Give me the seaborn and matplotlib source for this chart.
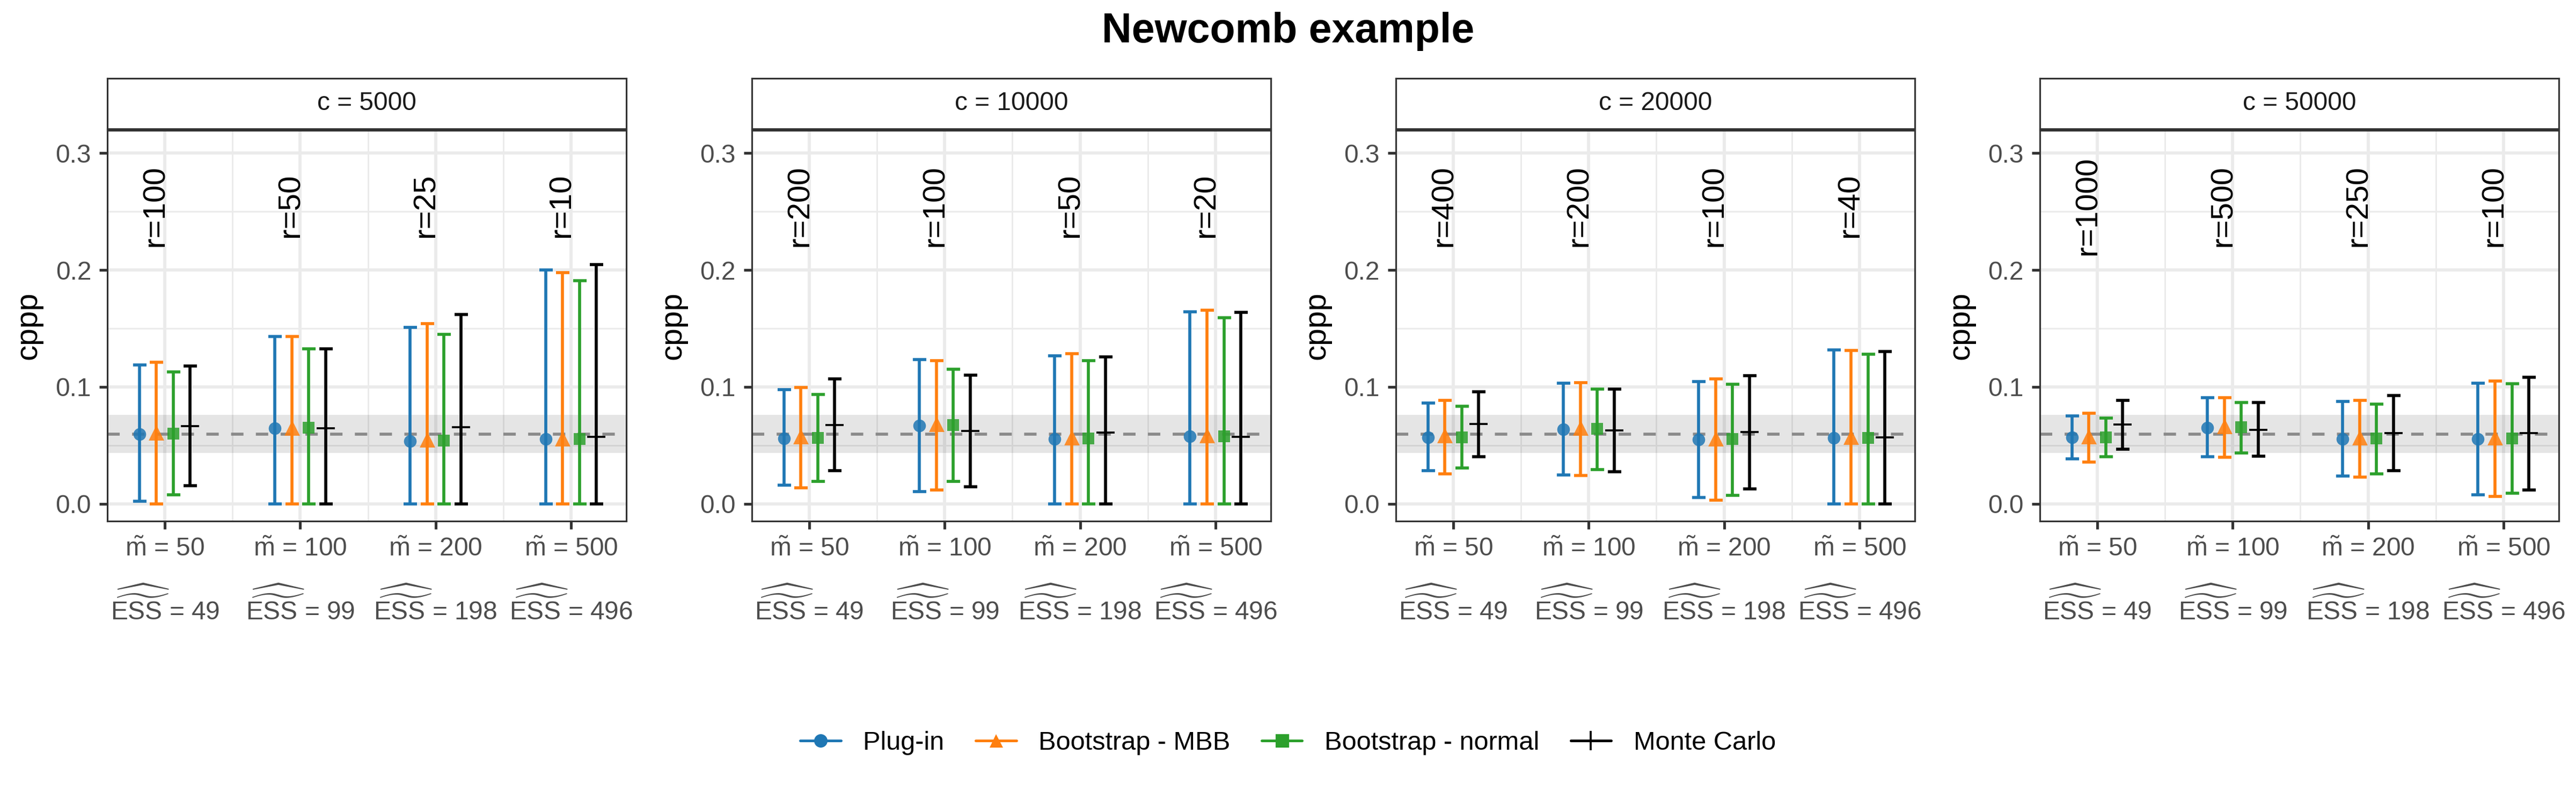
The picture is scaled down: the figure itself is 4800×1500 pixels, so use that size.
import numpy as np
import pandas as pd
import matplotlib
matplotlib.use("Agg")
import matplotlib.pyplot as plt
from matplotlib.lines import Line2D
import seaborn as sns

# =====================================================
# DATA
# =====================================================
c_values = [5000, 10000, 20000, 50000]
m_tilde = [50, 100, 200, 500]
ess_hat = [49, 99, 198, 496]
r_values = [[100, 50, 25, 10],
            [200, 100, 50, 20],
            [400, 200, 100, 40],
            [1000, 500, 250, 100]]

methods = ["Plug-in", "Bootstrap - MBB", "Bootstrap - normal", "Monte Carlo"]

# rows = c panels, columns = m_tilde
plugin_est = [[0.0598, 0.0646, 0.0538, 0.0556],
              [0.0561, 0.0669, 0.0556, 0.0580],
              [0.0567, 0.0638, 0.0551, 0.0564],
              [0.0567, 0.0653, 0.0556, 0.0556]]
plugin_lo = [[0.0021, 0.0, 0.0, 0.0],
             [0.0158, 0.0105, 0.0, 0.0],
             [0.0282, 0.0248, 0.0053, 0.0],
             [0.0387, 0.0403, 0.0240, 0.0079]]
plugin_hi = [[0.1186, 0.1433, 0.1510, 0.2000],
             [0.0975, 0.1233, 0.1265, 0.1644],
             [0.0862, 0.1033, 0.1046, 0.1318],
             [0.0751, 0.0906, 0.0875, 0.1033]]

mbb_est = [[0.0610, 0.0650, 0.0550, 0.0560],
           [0.0580, 0.0685, 0.0570, 0.0588],
           [0.0585, 0.0650, 0.0561, 0.0574],
           [0.0580, 0.0664, 0.0569, 0.0569]]
mbb_lo = [[0.0, 0.0, 0.0, 0.0],
          [0.0137, 0.0119, 0.0, 0.0],
          [0.0256, 0.0242, 0.0034, 0.0],
          [0.0356, 0.0400, 0.0229, 0.0066]]
mbb_hi = [[0.1210, 0.1430, 0.1540, 0.1976],
          [0.0996, 0.1225, 0.1286, 0.1655],
          [0.0885, 0.1038, 0.1067, 0.1312],
          [0.0777, 0.0909, 0.0883, 0.1049]]

normal_est = [[0.0600, 0.0650, 0.0540, 0.0556],
              [0.0564, 0.0672, 0.0559, 0.0580],
              [0.0569, 0.0640, 0.0553, 0.0564],
              [0.0569, 0.0656, 0.0559, 0.0559]]
normal_lo = [[0.0076, 0.0, 0.0, 0.0],
             [0.0192, 0.0192, 0.0, 0.0],
             [0.0308, 0.0295, 0.0074, 0.0],
             [0.0403, 0.0435, 0.0258, 0.0090]]
normal_hi = [[0.1130, 0.1325, 0.1450, 0.1910],
             [0.0935, 0.1149, 0.1225, 0.1592],
             [0.0835, 0.0983, 0.1022, 0.1278],
             [0.0733, 0.0867, 0.0854, 0.1028]]

mc_est = [[0.0667, 0.0648, 0.0656, 0.0574],
          [0.0672, 0.0625, 0.0609, 0.0574],
          [0.0682, 0.0627, 0.0614, 0.0569],
          [0.0680, 0.0635, 0.0606, 0.0606]]
mc_lo = [[0.0155, 0.0, 0.0, 0.0],
         [0.0282, 0.0145, 0.0, 0.0],
         [0.0403, 0.0277, 0.0126, 0.0],
         [0.0469, 0.0406, 0.0285, 0.0121]]
mc_hi = [[0.1180, 0.1325, 0.1618, 0.2045],
         [0.1067, 0.1100, 0.1257, 0.1636],
         [0.0957, 0.0980, 0.1096, 0.1304],
         [0.0883, 0.0867, 0.0925, 0.1083]]

# reference cppp (dashed line) and its band
ref_cppp = 0.0598
ref_lo = 0.0435
ref_hi = 0.0759

# =====================================================
# LONG FORMAT
# =====================================================
est_all = [plugin_est, mbb_est, normal_est, mc_est]
lo_all = [plugin_lo, mbb_lo, normal_lo, mc_lo]
hi_all = [plugin_hi, mbb_hi, normal_hi, mc_hi]
dodge = [-0.1875, -0.0625, 0.0625, 0.1875]

rows = []
for k, meth in enumerate(methods):
    for p in range(len(c_values)):
        for g in range(len(m_tilde)):
            rows.append({"panel": p, "group": g, "method": meth,
                         "x": g + 1 + dodge[k],
                         "est": est_all[k][p][g],
                         "lo": lo_all[k][p][g],
                         "hi": hi_all[k][p][g]})
df = pd.DataFrame(rows)

palette = {"Plug-in": "#1f77b4", "Bootstrap - MBB": "#ff7f0e",
           "Bootstrap - normal": "#2ca02c", "Monte Carlo": "black"}
markers = {"Plug-in": "o", "Bootstrap - MBB": "^", "Bootstrap - normal": "s"}
msizes = {"Plug-in": 32, "Bootstrap - MBB": 48, "Bootstrap - normal": 30}

# =====================================================
# PLOT
# =====================================================
sns.set_theme(style="white")
plt.rcParams["font.family"] = ["Liberation Sans", "DejaVu Sans"]
plt.rcParams["mathtext.fontset"] = "custom"
plt.rcParams["mathtext.rm"] = "Liberation Sans"
plt.rcParams["mathtext.it"] = "Liberation Sans"
plt.rcParams["text.color"] = "black"

fig = plt.figure(figsize=(16, 5), dpi=300)
lefts = [0.04167, 0.29187, 0.54187, 0.79187]
ax_w = 0.2015
tick_col = "#4D4D4D"
frame_col = "#333333"

for p, c in enumerate(c_values):
    ax = fig.add_axes([lefts[p], 0.3527, ax_w, 0.4853])
    sub = df[df["panel"] == p]

    # reference band and line
    ax.axhspan(ref_lo, ref_hi, color="black", alpha=0.1, lw=0, zorder=1)
    ax.axhline(ref_cppp, color="#8A8A8A", lw=1.35, ls=(0, (4.1, 4.1)), zorder=1.5)

    # error bars
    for meth in methods:
        s = sub[sub["method"] == meth]
        ax.errorbar(s["x"], s["est"], yerr=[s["est"] - s["lo"], s["hi"] - s["est"]],
                    fmt="none", ecolor=palette[meth], elinewidth=1.35,
                    capsize=3, capthick=1.35, zorder=2)

    # point estimates
    filled = sub[sub["method"] != "Monte Carlo"]
    for meth in methods[:3]:
        s = filled[filled["method"] == meth]
        sns.scatterplot(data=s, x="x", y="est", color=palette[meth],
                        marker=markers[meth], s=msizes[meth], linewidth=0,
                        alpha=0.85, legend=False, ax=ax, zorder=3)
    mc = sub[sub["method"] == "Monte Carlo"]
    sns.scatterplot(data=mc, x="x", y="est", color="black", marker="+",
                    s=70, linewidth=0.9, legend=False, ax=ax, zorder=3)

    # r labels
    for g in range(len(m_tilde)):
        ax.text(g + 1 - 0.07, 0.255, f"r={r_values[p][g]}", rotation=90,
                ha="center", va="center", fontsize=14, color="black", zorder=4)

    # axes styling
    ax.set_xlim(0.575, 4.41)
    ax.set_ylim(-0.0147, 0.3193)
    ax.set_xticks(range(1, len(m_tilde) + 1))
    ax.set_xticklabels([rf"$\tilde{{\mathrm{{m}}}}$ = {m}" for m in m_tilde])
    ax.set_xticks([1.5, 2.5, 3.5], minor=True)
    ax.set_yticks([0.0, 0.1, 0.2, 0.3])
    ax.set_yticklabels(["0.0", "0.1", "0.2", "0.3"])
    ax.set_yticks([0.05, 0.15, 0.25], minor=True)
    ax.grid(which="major", color="#EBEBEB", lw=1.4)
    ax.grid(which="minor", color="#EBEBEB", lw=0.7)
    ax.set_axisbelow(True)
    ax.tick_params(which="major", length=3.6, width=1.2, color=frame_col,
                   labelsize=11.5, labelcolor=tick_col, pad=3.6,
                   bottom=True, left=True)
    ax.tick_params(which="minor", length=0)
    for sp in ax.spines.values():
        sp.set_color(frame_col)
        sp.set_linewidth(0.75)
    ax.set_xlabel("")
    ax.set_ylabel("cppp", fontsize=14, color="black")
    ax.yaxis.set_label_coords(-0.125, 0.5)

    # second line of x labels: estimated ESS
    for g, e in enumerate(ess_hat):
        ax.text(g + 1, -0.2527, rf"$\widehat{{\widetilde{{\mathrm{{ESS}}}}}}$ = {e}",
                transform=ax.get_xaxis_transform(), ha="center", va="baseline",
                fontsize=11.5, color=tick_col)

    # facet strip
    sax = fig.add_axes([lefts[p], 0.84, ax_w, 0.0627])
    sax.set_facecolor("white")
    sax.set_xticks([])
    sax.set_yticks([])
    for sp in sax.spines.values():
        sp.set_color(frame_col)
        sp.set_linewidth(0.75)
    sax.text(0.5, 0.5, f"c = {c}", ha="center", va="center",
             fontsize=11.5, color="#1A1A1A", transform=sax.transAxes)

# legend
handles = [Line2D([0], [0], color=palette[m], lw=1.2,
                  marker=markers.get(m, "+"), markersize=6 if m != "Monte Carlo" else 8.5,
                  markeredgewidth=0 if m != "Monte Carlo" else 0.9)
           for m in methods]
fig.legend(handles, methods, loc="center", bbox_to_anchor=(0.5, 0.0767), ncol=4,
           frameon=False, fontsize=11.7, handlelength=1.55, columnspacing=1.2,
           handletextpad=0.85, labelcolor="black")

fig.text(0.5, 0.961, "Newcomb example", ha="center", va="center",
         fontsize=18.5, fontweight="bold", color="black")

plt.savefig("out.png", dpi=300)
